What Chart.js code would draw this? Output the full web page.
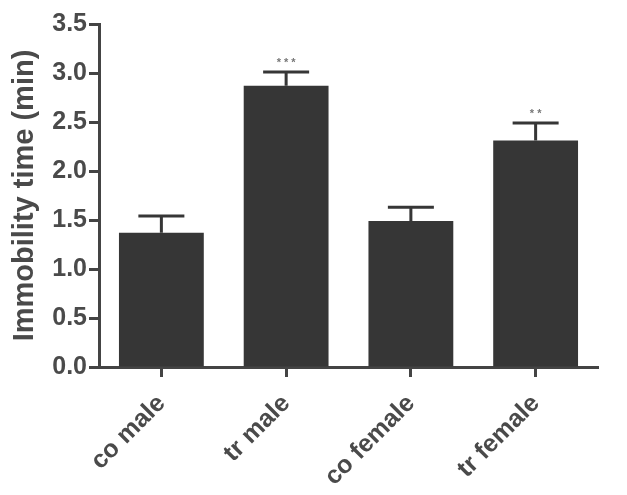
<!DOCTYPE html>
<html><head><meta charset="utf-8">
<script src="https://cdn.jsdelivr.net/npm/chart.js@4.4.0/dist/chart.umd.min.js"></script>
<style>html,body{margin:0;padding:0;background:#fff}#wrap{width:627px;height:495px}</style>
</head><body><div id="wrap"><canvas id="c" width="627" height="495"></canvas></div>
<script>
const categories = ['co male', 'tr male', 'co female', 'tr female'];
const means = [1.37, 2.87, 1.49, 2.31];
const sems = [0.17, 0.14, 0.14, 0.18];
const significance = ['', '***', '', '**'];
const yTicks = [0, 0.5, 1.0, 1.5, 2.0, 2.5, 3.0, 3.5];

const ink = '#363636';
const textColor = '#4a4a4a';
const fam = '"Liberation Sans", Arial, sans-serif';
const errorBars = {
  id: 'errorBars',
  afterDatasetsDraw(chart) {
    const ctx = chart.ctx, y = chart.scales.y;
    const meta = chart.getDatasetMeta(0);
    ctx.save();
    ctx.strokeStyle = ink; ctx.lineWidth = 3; ctx.lineCap = 'butt';
    meta.data.forEach((bar, i) => {
      const top = y.getPixelForValue(means[i] + sems[i]);
      const base = y.getPixelForValue(means[i]);
      ctx.beginPath();
      ctx.moveTo(bar.x, base); ctx.lineTo(bar.x, top);
      ctx.moveTo(bar.x - 23, top); ctx.lineTo(bar.x + 23, top);
      ctx.stroke();
      if (significance[i]) {
        ctx.fillStyle = '#777';
        ctx.font = 'bold 11px ' + fam;
        ctx.textAlign = 'center'; ctx.textBaseline = 'bottom';
        ctx.fillText(significance[i].split('').join(' '), bar.x, top - 4);
      }
    });
    ctx.restore();
  }
};

new Chart(document.getElementById('c'), {
  type: 'bar',
  data: { labels: categories, datasets: [{ data: means, backgroundColor: ink, borderWidth: 0, categoryPercentage: 1, barPercentage: 0.68 }] },
  options: {
    responsive: false, animation: false,
    layout: { padding: { top: 24, right: 29, left: 0, bottom: 0 } },
    plugins: { legend: { display: false }, tooltip: { enabled: false } },
    scales: {
      x: {
        afterFit(s) { s.height = 128; },
        grid: { display: true, drawOnChartArea: false, offset: false, tickLength: 10, tickWidth: 3, tickColor: '#444' },
        border: { display: true, color: '#444', width: 3 },
        ticks: { color: textColor, maxRotation: 45, minRotation: 45, padding: 12, font: { family: fam, size: 25, weight: 'bold' } }
      },
      y: {
        min: 0, max: 3.5,
        afterFit(s) { s.width = 99; },
        afterBuildTicks(s) { s.ticks = yTicks.map(v => ({ value: v })); },
        grid: { display: true, drawOnChartArea: false, tickLength: 10, tickWidth: 3, tickColor: '#444' },
        border: { display: true, color: '#444', width: 3 },
        ticks: { color: textColor, padding: 2, callback: v => Number(v).toFixed(1), font: { family: fam, size: 25, weight: 'bold' } },
        title: { display: true, text: 'Immobility time (min)', color: textColor, padding: { top: 8, bottom: 0 }, font: { family: fam, size: 29, weight: 'bold' } }
      }
    }
  },
  plugins: [errorBars]
});
</script></body></html>
